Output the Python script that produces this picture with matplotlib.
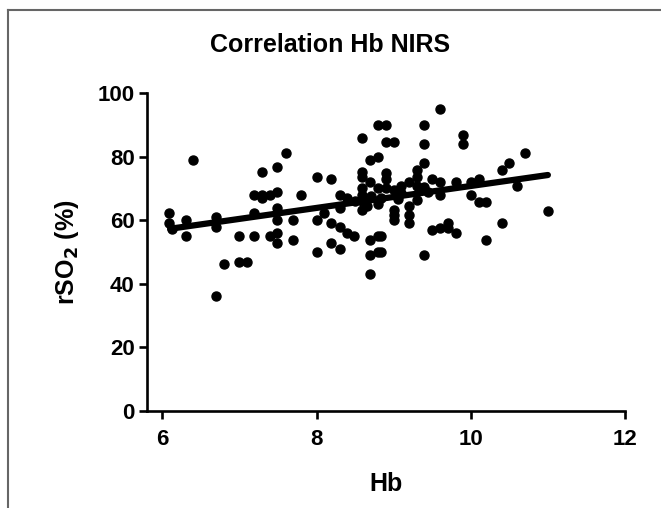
import matplotlib
matplotlib.use("Agg")
from matplotlib import pyplot as plt
from matplotlib.lines import Line2D

plt.rcParams['font.family'] = ['Liberation Sans', 'DejaVu Sans']
plt.rcParams['font.weight'] = 'bold'

# Hb values and matching rSO2 (%)
hb = [6.40, 6.09, 6.09, 6.13, 6.30, 6.30, 6.70, 6.70, 6.80, 6.99,
      6.99, 7.10, 7.19, 7.19, 7.19, 7.29, 7.29, 7.29, 7.39, 7.39,
      7.49, 7.49, 7.49, 7.49, 7.49, 7.49, 7.60, 7.70, 7.70, 7.80,
      8.00, 8.00, 8.00, 8.09, 8.19, 8.19, 8.19, 8.30, 8.30, 8.30,
      8.30, 8.40, 8.40, 8.49, 8.59, 8.59, 8.59, 8.59, 8.59, 8.59,
      8.59, 8.69, 8.69, 8.69, 8.69, 8.69, 8.79, 8.79, 8.79, 8.79,
      8.79, 8.79, 8.90, 8.90, 8.90, 9.00, 8.90, 8.90, 8.83, 9.00,
      9.00, 9.00, 9.00, 8.83, 8.83, 9.10, 9.20, 9.20, 9.20, 9.20,
      9.30, 9.30, 9.30, 9.30, 9.39, 9.39, 9.39, 9.39, 9.39, 9.50,
      9.50, 9.60, 9.60, 9.60, 9.60, 9.70, 9.70, 9.81, 9.81, 9.90,
      9.90, 10.0, 10.0, 10.1, 10.1, 10.2, 10.2, 10.4, 10.4, 10.5,
      10.6, 10.7, 11.0, 6.70, 8.50, 8.70, 9.10, 9.45, 8.65, 9.05]
rso2 = [79.0, 62.2, 59.0, 57.1, 60.1, 55.0, 61.1, 58.0, 46.1, 55.0,
        47.0, 47.0, 55.0, 62.2, 68.0, 75.0, 68.0, 67.0, 68.0, 55.0,
        76.8, 69.0, 63.7, 60.0, 56.0, 52.7, 81.0, 60.0, 53.8, 68.0,
        73.7, 60.0, 50.0, 62.2, 72.8, 59.0, 52.7, 68.0, 63.7, 58.0,
        51.0, 67.0, 56.0, 55.0, 85.7, 75.3, 73.7, 70.0, 68.0, 66.0,
        63.2, 79.0, 72.0, 53.8, 49.0, 43.0, 90.0, 80.0, 70.0, 65.0,
        55.0, 50.0, 90.0, 84.7, 74.7, 84.7, 73.0, 70.0, 67.0, 69.5,
        63.2, 61.7, 60.0, 55.0, 50.0, 70.8, 72.1, 64.3, 61.7, 59.0,
        75.8, 73.7, 70.8, 66.4, 90.0, 84.0, 77.9, 70.5, 49.0, 72.9,
        57.0, 95.0, 72.1, 57.4, 68.0, 59.0, 57.4, 72.1, 55.9, 86.8,
        84.0, 72.1, 68.0, 72.8, 65.8, 65.8, 53.8, 75.8, 59.0, 77.9,
        70.8, 81.0, 63.0, 36.0, 66.0, 67.5, 68.5, 69.0, 64.5, 66.5]

# regression line end points as drawn
fit_hb = [6.1, 11.0]
fit_rso2 = [57.3, 74.2]

fig = plt.figure(figsize=(6.61, 5.08), dpi=100)
ax = fig.add_axes([0.2224, 0.191, 0.7231, 0.626])

ax.plot(hb, rso2, 'o', color='black', markersize=6.5, clip_on=False, zorder=3)
ax.plot(fit_hb, fit_rso2, color='black', linewidth=4.5, solid_capstyle='round', zorder=4)

ax.set_xlim(5.8, 12)
ax.set_ylim(0, 100)
ax.set_xticks([6, 8, 10, 12])
ax.set_yticks([0, 20, 40, 60, 80, 100])

for side in ['top', 'right']:
    ax.spines[side].set_visible(False)
for side in ['left', 'bottom']:
    ax.spines[side].set_linewidth(1.9)
ax.tick_params(axis='both', direction='out', length=6, width=1.9, labelsize=16)
ax.tick_params(axis='x', pad=7)
ax.tick_params(axis='y', pad=3)
for lab in ax.get_xticklabels() + ax.get_yticklabels():
    lab.set_fontweight('bold')

ax.set_xlabel('Hb', fontsize=18, fontweight='bold', labelpad=16)
ax.set_ylabel('rSO$_\\mathbf{2}$ (%)', fontsize=18, fontweight='bold', labelpad=12)
fig.text(0.5, 1 - 45 / 508, 'Correlation Hb NIRS', fontsize=18, fontweight='bold',
         ha='center', va='center')

# grey frame of the original figure panel
fig.add_artist(Line2D([8 / 661, 8 / 661], [0, 1 - 10 / 508], color='#666666', linewidth=1.5))
fig.add_artist(Line2D([8 / 661, 1], [1 - 10 / 508, 1 - 10 / 508], color='#666666', linewidth=1.5))

fig.savefig('out.png', dpi=100)
